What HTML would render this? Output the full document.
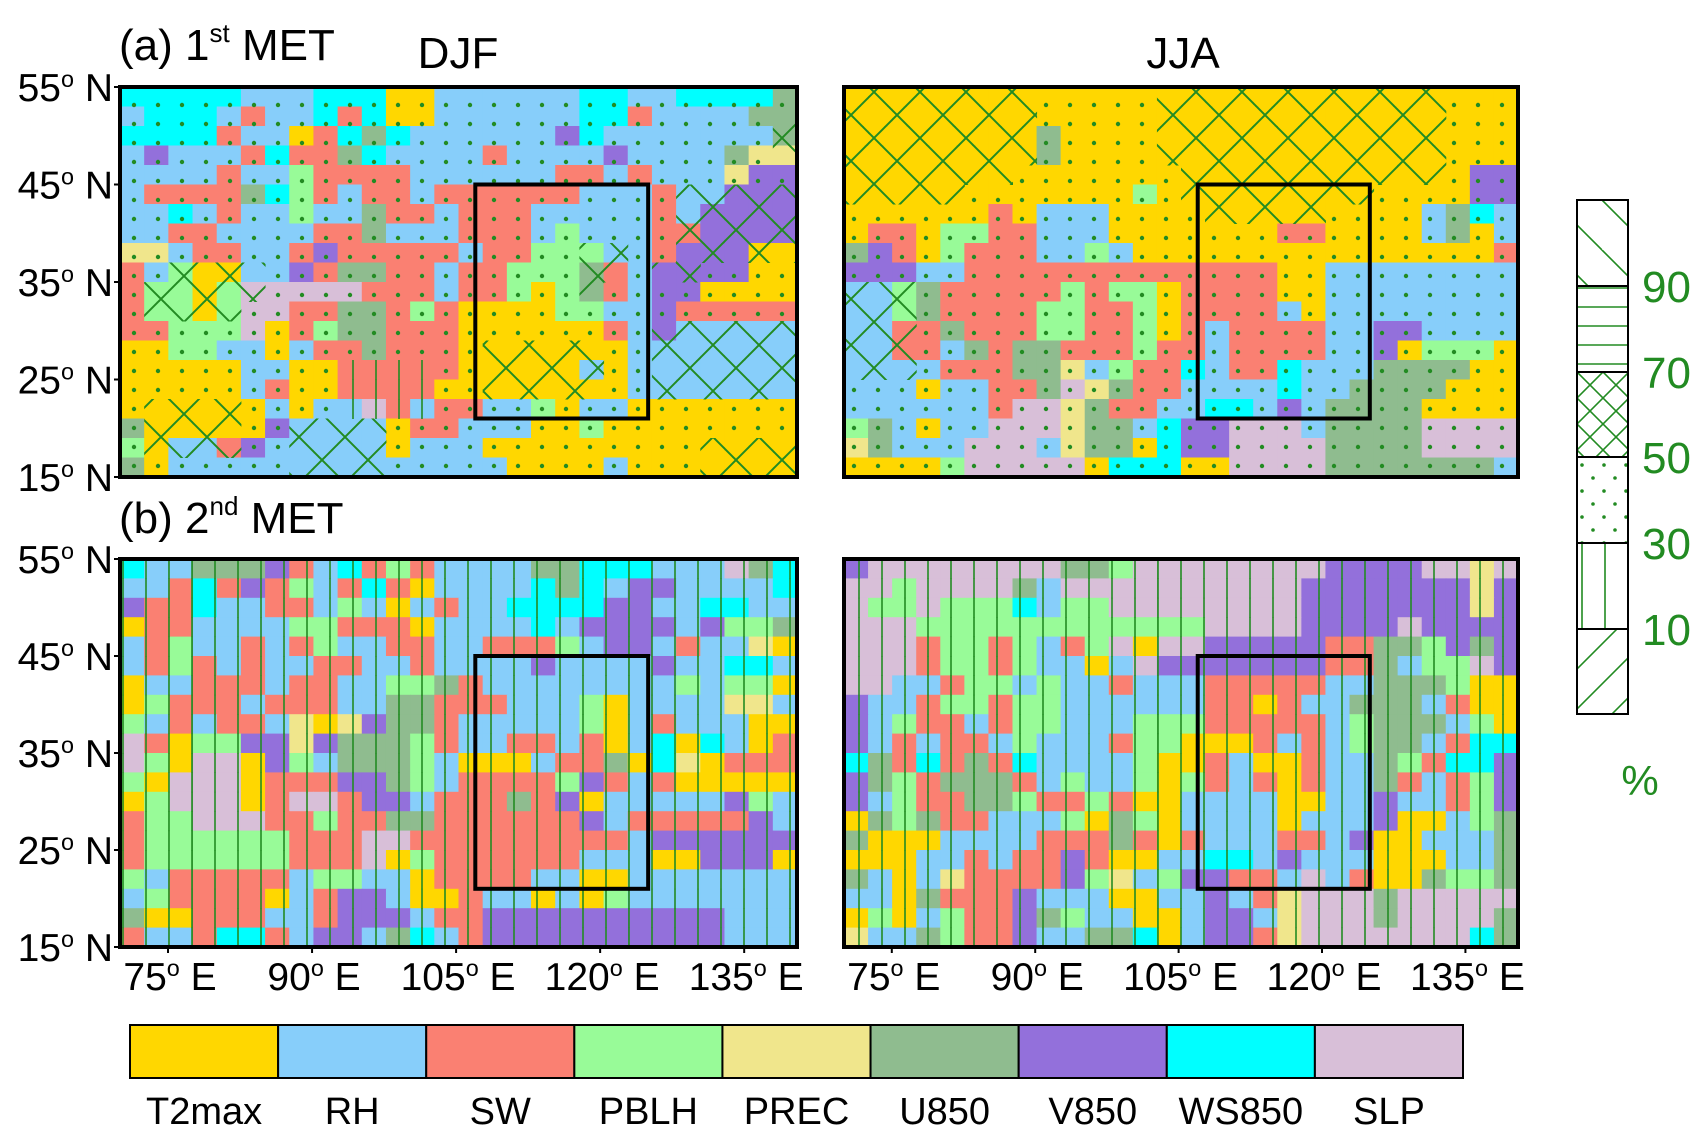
<!DOCTYPE html>
<html><head><meta charset="utf-8"><title>Dominant meteorological factors</title>
<style>
html,body{margin:0;padding:0;background:#fff;}
svg{display:block;font-family:"Liberation Sans",sans-serif;}
</style></head>
<body>
<svg id="fig" width="1708" height="1143" viewBox="0 0 1708 1143" xmlns="http://www.w3.org/2000/svg">
<defs>
<pattern id="pdots" patternUnits="userSpaceOnUse" width="24" height="19" x="8" y="4"><circle cx="6" cy="6" r="2.2" fill="#228B22"/></pattern>
<pattern id="pcross" patternUnits="userSpaceOnUse" width="46" height="46"><path d="M0,0 L46,46 M46,0 L0,46" stroke="#228B22" stroke-width="2" fill="none"/></pattern>
<pattern id="pvert" patternUnits="userSpaceOnUse" width="23" height="40" x="6"><line x1="2" y1="0" x2="2" y2="40" stroke="#228B22" stroke-width="1.6"/></pattern>
<pattern id="lgBack" patternUnits="userSpaceOnUse" width="50" height="50" x="1577" y="200"><path d="M-25,0 L25,50 M0,-25 L50,25 M25,0 L75,50 M-25,25 L25,75" stroke="#228B22" stroke-width="1.6"/></pattern>
<pattern id="lgHor" patternUnits="userSpaceOnUse" width="50" height="19" x="1577" y="286"><line x1="0" y1="2" x2="50" y2="2" stroke="#228B22" stroke-width="1.6"/></pattern>
<pattern id="lgCross" patternUnits="userSpaceOnUse" width="26" height="26" x="1577" y="372"><path d="M0,0 L26,26 M26,0 L0,26" stroke="#228B22" stroke-width="1.6"/></pattern>
<pattern id="lgDots" patternUnits="userSpaceOnUse" width="22" height="26" x="1577" y="457"><circle cx="5" cy="8" r="1.8" fill="#228B22"/><circle cx="16" cy="21" r="1.8" fill="#228B22"/></pattern>
<pattern id="lgVert" patternUnits="userSpaceOnUse" width="23" height="50" x="1577" y="543"><line x1="5" y1="0" x2="5" y2="50" stroke="#228B22" stroke-width="1.6"/></pattern>
<pattern id="lgFwd" patternUnits="userSpaceOnUse" width="40" height="40" x="1577" y="629"><path d="M0,40 L40,0 M-20,20 L20,-20 M20,60 L60,20" stroke="#228B22" stroke-width="1.6"/></pattern>
</defs>
</svg>
<script>
// ---- chart data ----
const categories = ['T2max','RH','SW','PBLH','PREC','U850','V850','WS850','SLP'];
const categoryCodes = ['T','R','S','P','Q','U','V','W','L'];
const categoryColors = ['#FFD700','#87CEFA','#FA8072','#98FB98','#F0E68C','#8FBC8F','#9370DB','#00FFFF','#D8BFD8'];
const latTicks = [55,45,35,25,15];
const lonTicks = [75,90,105,120,135];
const hatchTickLabels = ['90','70','50','30','10'];
const boxLon = [107,125];
const boxLat = [21,45];
const gridLon = [70,140.5];
const gridLat = [15,55];

const djf1Grid = [
"WWWWWRRRWWWTTRRRRRRWWRRWWWWU",
"RWWWRSRRWSWTTRRRRRRWWSRRRRUU",
"WWWWSRRTSWUWRRRRRRVWRRRRRRRU",
"RVRRRSWSSUWRRRRSRRRRVRRRRUQQ",
"RRRRSRRPSSSSRRRRRRSSRSRRRQVV",
"RSSSSUWPSRSSRSSSSSSRRRSRRVVV",
"RRWRSRRPRRUSSRSSSRRRRRSRVVVV",
"RRSSRRRRSSURRRSSSRPRRRSSVVVV",
"QQRSSRRSVSSSSSRSSPPPRRSVVVTT",
"SRPTTRRVSUUSSRSSPPPUSRVVVVTT",
"SPPTPLLLLLSSSRSSPTPUSRVVTTTT",
"SPPTPLLSSUUSPSTTTTPPRRVSSSSS",
"SSPPPLTSPUUSSSTTTTTTSRVRRRRR",
"TTPPRRTRSSUSSSTTTTTTTRRRRRRR",
"TTTTTRRTTSSSSSTTTTTRTRRRRRRR",
"TTTTTRSTTSSSSTTTTTTTTRRRRRRR",
"TTTTTTRTRRLSRSSRRPTRRTTTTTTT",
"UTTTTTVRRRRTSSRRRTTPTTTTTTTT",
"PTRRSVRRRRRTRRRTTTTTTTTTTTTT",
"UTRRRRRRRRRRRRRRTTTTRTTTTTTT"];
const jja1Grid = [
"TTTTTTTTTTTTTTTTTTTTTTTTTTTT",
"TTTTTTTTTTTTTTTTTTTTTTTTTTTT",
"TTTTTTTTUTTTTTTTTTTTTTTTTTTT",
"TTTTTTTTUTTTTTTTTTTTTTTTTTTT",
"TTTTTTTTTTTTTTTTTTTTTTTTTTVV",
"TTTTTTTTTTTTPTTTTTTTTTTTTTVV",
"TTTTTTSTRRRTTTTTTTTTTTTTRUWR",
"TSSTPPSSRRRTTTTTTTSSTTTTRUTR",
"UVSTPSSSRRPRTTTTTTTTTTTTTTTS",
"VVVRRSSSSSSSSSSSSSTTRRRRRRRR",
"RRPUSSSSSPSPPTSSSSTTRRRRRRRR",
"RRPUSSSSPPSSPTSSSSRTRRRRRRRR",
"RRSSUSSSPPSSPTSRSSSSRRVVRRRR",
"RRSSRUSUUSSSPSSRSSSSRRVTPPPT",
"RRRRSSSUUQRPSSWRSSWRRRUUUUTT",
"RRRTRRSSULQUSSRRRRWRRUUUUTTT",
"RRRRRRSLLQUSSRRWWRVRUUUUTTTT",
"PURTRRLLLQUURWVVLLLRUUUULLLL",
"QURRRLLLRQUUTWVVLLLLUUUULLLL",
"TTTTPLLLLLTWWWTTLLLLUUUUUUUR"];
const djf2Grid = [
"WRRUUUVSRWSPSRRRRUUWWWRRRLUW",
"RRSWSVSPRSWSTRRRRWUWRVVRRRRW",
"VSSWRRSSRPRTRSRRWWWWVVRRWWRR",
"TSSRRRRPPSSSTRRRRWRVVVVRVPPU",
"RSPRRSRSPRRSSRRSSSPRVVRSRRQT",
"RSPSRSRRSSRRSRRRRVRRRRVRRWWR",
"TRRSSSRSSRRPPUSRRRRRRRRPRPPT",
"TPSSSRSSSRRUUSSSRRRPTRRRRQQR",
"PRSRSSRQTQVUUSRRRRRPTRSRRRTT",
"LSTPPVVQVUUUPSRRSSRSTRWTWRTS",
"LPTLLTVPRUUUPRTTTRSSUTWQTSSS",
"PTLLLTSSSVVUPRSSSSPVSRSTTTTT",
"TPLLLTSLLSVVRSSSUSVTRRRRRVPR",
"SPPLLLSSPSSUUSSSSSSVRSSSSSVR",
"SPPPPPPSSSLLSSSSSSSSSRVVVVVV",
"SPPPPPPSSSLTPSSSSSSRRRTTVVVT",
"PRSSSSSRPPRRTSSSSRRTTRRRRRRR",
"RPSSSSTRSVVRTTSRRTRTPRRRRRRR",
"UTTSSSRRSVVVRSSVVVVVVVVVVRRR",
"SRRSWWSRVVRUWRSVVVVVVVVVVRRR"];
const jja2Grid = [
"VLLLLLLLLUUPLLLLLLLLVVVVLLQL",
"LLPLLLLURLLLLLLLLLLVVVVVVVQV",
"LPPLPPPWRPPLLLLLLLLVVVVVVVQV",
"LLLPPPPPPPPPPPPLLLLVVVVLVVVV",
"LLLSPPSPRSPLTLLVVVVVSSUUPVUV",
"LLLSPPSPRRTRLVVVVVVVSSURPPLV",
"LLRRSPPRPRRSRRRSSSSSRRUUUPTT",
"VRRSPPSPPRRRRRRSSTSRRUUURSTT",
"VRPSSRSPPRRRPPPSSSSSRPUUURPT",
"VRSRSSRPRRRSPPTTTSRSRPUURSWW",
"WUSWSUSWRRRRPTTSRTTSRRUPSWWV",
"VUPSUUUSRPRRPTPSRSTSRRUSRSPV",
"VRPSSUUPSSPSTTRRRRTTRRVRRSPV",
"TUPUSSRRRPTUPTRRRRTRRRVTTRPU",
"UTTTRRRRSSSUSTSRRRSSRVTTRRRU",
"TTTRRSRSSVSTTRRWWRVRRRTTTRRU",
"URTRQSSSSVPQRPVVSSRLRSTTUPPU",
"RRTUSSSVRRRTTRRVRSQLLLULLLLL",
"TPTRPSSVUPRRTTRVVRQLLLULLLLU",
"QRRUPSSVRRUUWTRVVSQLLLLLLLWU"];
// hatch codes: '.' = 30-50% (dots), 'x' = 50-70% (cross), '|' = 10-30% (vertical)
const djf1Hatch = [
"............................",
"...........................x",
"...........................x",
"...........................x",
"............................",
".......................xxxxx",
".......................xxxxx",
".......................xxxxx",
"...................xx..xxxxx",
"..xxxx.............xx.xx....",
".xxxxx.............x........",
".xxxx.......................",
"......................xxxxxx",
"...............xxxxx..xxxxxx",
".........||||..xxxxx..xxxxxx",
".........||||..xxxxx..xxxxxx",
".xxxx....||||...............",
".xxxx..xxxx.................",
".xxxx..xxxx.............xxxx",
".......xxxx.............xxxx"];
const jja1Hatch = [
"xxxxxxxx.....xxxxxxxxxxxx...",
"xxxxxxxx.....xxxxxxxxxxxx...",
"xxxxxxxx.....xxxxxxxxxxxx...",
"xxxxxxxx.....xxxxxxxxxxxx...",
"xxxxxxx.......xxxxxxxxxxx...",
"xxxxx.........xxxxxxxx......",
"...............xxxxx........",
"............................",
"............................",
"............................",
"xxx.........................",
"xxx.........................",
"xxx.........................",
"xxx.........................",
"xxx.........................",
"............................",
"............................",
"............................",
"............................",
"............................"];
const djf2Hatch = Array(20).fill("||||||||||||||||||||||||||||");
const jja2Hatch = Array(20).fill("||||||||||||||||||||||||||||");

// ---- layout ----
const NS = 'http://www.w3.org/2000/svg';
const svg = document.getElementById('fig');
const panels = [
  {name:'djf-1st-met', x0:120, x1:797, y0:87, y1:477, grid:djf1Grid, hatch:djf1Hatch},
  {name:'jja-1st-met', x0:844, x1:1518, y0:87, y1:477, grid:jja1Grid, hatch:jja1Hatch},
  {name:'djf-2nd-met', x0:120, x1:797, y0:559, y1:947, grid:djf2Grid, hatch:djf2Hatch},
  {name:'jja-2nd-met', x0:844, x1:1518, y0:559, y1:947, grid:jja2Grid, hatch:jja2Hatch}
];
function mk(tag, attrs, parent){
  const e = document.createElementNS(NS, tag);
  for (const k in attrs) e.setAttribute(k, attrs[k]);
  (parent||svg).appendChild(e);
  return e;
}
function xScale(p, lon){ return p.x0 + (lon-gridLon[0])/(gridLon[1]-gridLon[0])*(p.x1-p.x0); }
function yScale(p, lat){ return p.y0 + (gridLat[1]-lat)/(gridLat[1]-gridLat[0])*(p.y1-p.y0); }
const hatchFill = {'.':'url(#pdots)','x':'url(#pcross)','|':'url(#pvert)'};

panels.forEach(p => {
  const g = mk('g', {});
  
  
  const rows = p.grid.length, cols = 28;
  const dLat = (gridLat[1]-gridLat[0])/rows, dLon = (gridLon[1]-gridLon[0])/cols;
  for (let r=0; r<rows; r++){
    for (let c=0; c<cols; c++){
      const code = p.grid[r].charAt(c) || p.grid[r].charAt(p.grid[r].length-1);
      const idx = categoryCodes.indexOf(code);
      const lonA = gridLon[0] + c*dLon, latA = gridLat[1] - r*dLat;
      const xa = xScale(p, lonA), xb = xScale(p, lonA+dLon);
      const ya = yScale(p, latA), yb = yScale(p, latA-dLat);
      const rect = mk('rect', {x:xa, y:ya, width:xb-xa+0.6, height:yb-ya+0.6, fill:categoryColors[idx<0?0:idx]}, g);
      
      
    }
  }
  for (let r=0; r<rows; r++){
    for (let c=0; c<cols; c++){
      const h = (p.hatch[r]||'').charAt(c) || '.';
      const lonA = gridLon[0] + c*dLon, latA = gridLat[1] - r*dLat;
      const xa = xScale(p, lonA), xb = xScale(p, lonA+dLon);
      const ya = yScale(p, latA), yb = yScale(p, latA-dLat);
      const hr = mk('rect', {x:xa, y:ya, width:xb-xa+0.5, height:yb-ya+0.5, fill:hatchFill[h]||'url(#pdots)'}, g);
      
      
    }
  }
  const bx = mk('rect', {x:xScale(p,boxLon[0]), y:yScale(p,boxLat[1]), width:xScale(p,boxLon[1])-xScale(p,boxLon[0]), height:yScale(p,boxLat[0])-yScale(p,boxLat[1]), fill:'none', stroke:'#000', 'stroke-width':4}, g);
  
  
  const fr = mk('rect', {x:p.x0, y:p.y0, width:p.x1-p.x0, height:p.y1-p.y0, fill:'none', stroke:'#000', 'stroke-width':4}, g);
  
  
});

function degLabel(x, y, num, hem, anchor, size, name){
  const t = mk('text', {x:x, y:y, 'font-size':size, 'text-anchor':anchor, fill:'#000'});
  
  
  const a = mk('tspan', {}, t); a.textContent = num;
  const b = mk('tspan', {dy:-14, 'font-size':size*0.6}, t); b.textContent = 'o';
  const c = mk('tspan', {dy:14}, t); c.textContent = '\u00a0' + hem;
  return t;
}
[panels[0], panels[2]].forEach(p => {
  latTicks.forEach(lat => {
    const y = yScale(p, lat);
    degLabel(113, y+14, String(lat), 'N', 'end', 39, 'y-tick-label');
    const tk = mk('line', {x1:p.x0-6, x2:p.x0, y1:y, y2:y, stroke:'#000', 'stroke-width':2});
    
    
  });
});
[panels[2], panels[3]].forEach(p => {
  lonTicks.forEach(lon => {
    const x = xScale(p, lon);
    degLabel(x+2, 990, String(lon), 'E', 'middle', 39, 'x-tick-label');
    const tk = mk('line', {x1:x, x2:x, y1:p.y1, y2:p.y1+6, stroke:'#000', 'stroke-width':2});
    
    
  });
});

function title(x, y, pre, sup, post, name){
  const t = mk('text', {x:x, y:y, 'font-size':44, fill:'#000'});
  
  
  const a = mk('tspan', {}, t); a.textContent = pre;
  const b = mk('tspan', {dy:-18, 'font-size':26}, t); b.textContent = sup;
  const c = mk('tspan', {dy:18}, t); c.textContent = post;
}
title(119, 60, '(a) 1', 'st', ' MET', 'panel-a-title');
title(119, 533, '(b) 2', 'nd', ' MET', 'panel-b-title');
const djf = mk('text', {x:458, y:68, 'font-size':44, 'text-anchor':'middle'}); djf.textContent = 'DJF';


const jja = mk('text', {x:1183, y:68, 'font-size':44, 'text-anchor':'middle'}); jja.textContent = 'JJA';



const cbX0 = 130, cbX1 = 1463, cbY0 = 1025, cbY1 = 1078;
const cbW = (cbX1-cbX0)/categories.length;
categories.forEach((cat, i) => {
  const r = mk('rect', {x:cbX0+i*cbW, y:cbY0, width:cbW, height:cbY1-cbY0, fill:categoryColors[i], stroke:'#000', 'stroke-width':2});
  
  
  const t = mk('text', {x:cbX0+i*cbW+cbW/2, y:1124, 'font-size':38, 'text-anchor':'middle'});
  t.textContent = cat;
  
  
});

const hl = [
  {y0:200, y1:286, fill:'url(#lgBack)'},
  {y0:286, y1:372, fill:'url(#lgHor)'},
  {y0:372, y1:457, fill:'url(#lgCross)'},
  {y0:457, y1:543, fill:'url(#lgDots)'},
  {y0:543, y1:629, fill:'url(#lgVert)'},
  {y0:629, y1:714, fill:'url(#lgFwd)'}
];
hl.forEach(s => {
  const r = mk('rect', {x:1577, y:s.y0, width:51, height:s.y1-s.y0, fill:s.fill, stroke:'#000', 'stroke-width':2});
  
  
});
hatchTickLabels.forEach((lab, i) => {
  const t = mk('text', {x:1642, y:hl[i].y1+16, 'font-size':44, fill:'#228B22'});
  t.textContent = lab;
  
  
});
const pct = mk('text', {x:1640, y:795, 'font-size':42, fill:'#228B22', 'text-anchor':'middle'});
pct.textContent = '%';


</script>
</body></html>
